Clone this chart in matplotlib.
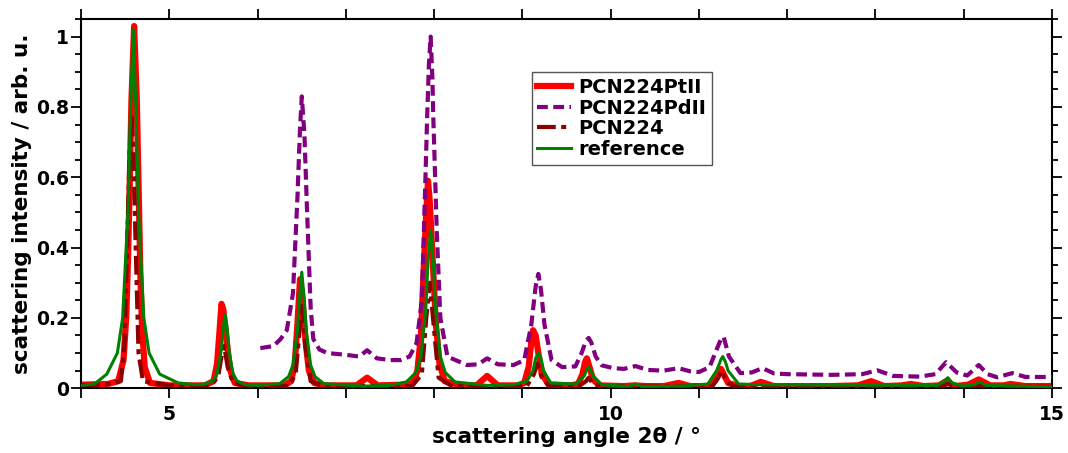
#!/usr/bin/env python3

# Powder diffraction patterns of PCN-224 type MOFs, normalised intensity

import numpy as np
import matplotlib
matplotlib.use("Agg")
import matplotlib.pyplot as plt
from matplotlib.ticker import MultipleLocator, FuncFormatter

# ---- data (2theta in deg, intensity) ----

pt_x = [4.0, 4.3, 4.42, 4.48, 4.51, 4.53, 4.55, 4.57, 4.6, 4.63, 4.65, 4.67,
        4.69, 4.72, 4.78, 5.0,
        5.4, 5.5, 5.54, 5.57, 5.59, 5.61, 5.63, 5.66, 5.69, 5.74, 5.9,
        6.3, 6.38, 6.42, 6.45, 6.48, 6.51, 6.54, 6.58, 6.64, 6.75,
        7.12, 7.24, 7.36,
        7.65, 7.76, 7.81, 7.85, 7.88, 7.91, 7.93, 7.95, 7.98, 8.02, 8.06, 8.12, 8.3,
        8.48, 8.6, 8.72,
        8.95, 9.02, 9.07, 9.1, 9.12, 9.15, 9.18, 9.22, 9.3,
        9.55, 9.63, 9.68, 9.71, 9.73, 9.76, 9.8, 9.87,
        10.15, 10.27, 10.4, 10.6, 10.77, 10.9,
        11.1, 11.18, 11.25, 11.33, 11.45, 11.58, 11.7, 11.85,
        12.5, 12.8, 12.95, 13.1, 13.3, 13.4, 13.55, 13.72, 13.8, 13.9,
        14.05, 14.17, 14.3, 14.45, 14.53, 14.7, 15.0]
pt_y = [0.010, 0.012, 0.020, 0.080, 0.200, 0.360, 0.580, 0.820, 1.030, 0.820,
        0.580, 0.330, 0.170, 0.060, 0.015, 0.008,
        0.008, 0.020, 0.070, 0.170, 0.240, 0.225, 0.180, 0.110, 0.050, 0.015, 0.008,
        0.008, 0.020, 0.070, 0.180, 0.310, 0.250, 0.140, 0.050, 0.015, 0.008,
        0.008, 0.030, 0.008,
        0.010, 0.015, 0.050, 0.150, 0.330, 0.500, 0.590, 0.530, 0.380, 0.180,
        0.070, 0.020, 0.008,
        0.008, 0.035, 0.008,
        0.008, 0.015, 0.060, 0.130, 0.165, 0.150, 0.100, 0.040, 0.010,
        0.008, 0.012, 0.040, 0.075, 0.085, 0.060, 0.025, 0.008,
        0.006, 0.008, 0.006, 0.006, 0.015, 0.006,
        0.006, 0.020, 0.055, 0.015, 0.006, 0.006, 0.018, 0.006,
        0.006, 0.008, 0.020, 0.006, 0.008, 0.012, 0.006, 0.008, 0.020, 0.006,
        0.010, 0.025, 0.008, 0.008, 0.012, 0.006, 0.006]

pd_x = [6.03, 6.18, 6.26, 6.33, 6.4, 6.45, 6.48, 6.5, 6.53, 6.56, 6.6, 6.63, 6.7,
        6.79, 7.0, 7.15, 7.24, 7.35, 7.5, 7.62, 7.72, 7.8, 7.86, 7.9, 7.92, 7.94,
        7.96, 7.98, 7.99, 8.03, 8.07, 8.15, 8.37, 8.5, 8.6, 8.72, 8.9,
        9.02, 9.1, 9.15, 9.18, 9.21, 9.25, 9.33, 9.45, 9.6, 9.67, 9.72, 9.75,
        9.78, 9.83, 9.9,
        10.03, 10.15, 10.28, 10.42, 10.6, 10.77, 10.9, 11.0,
        11.12, 11.2, 11.25, 11.28, 11.34, 11.47, 11.6, 11.72, 11.85, 12.0,
        12.5, 12.85, 13.02, 13.2, 13.5, 13.68, 13.8, 13.92, 14.04,
        14.17, 14.27, 14.38, 14.55, 14.7, 15.0]
pd_y = [0.114, 0.120, 0.140, 0.165, 0.270, 0.540, 0.740, 0.830, 0.720, 0.500,
        0.230, 0.140, 0.110, 0.100,
        0.095, 0.090, 0.108, 0.085, 0.080, 0.080, 0.090, 0.128, 0.250, 0.590,
        0.770, 0.920, 1.000, 0.880, 0.770, 0.440, 0.200, 0.090, 0.066, 0.068,
        0.085, 0.068, 0.066,
        0.080, 0.180, 0.290, 0.325, 0.280, 0.180, 0.080, 0.060, 0.062, 0.100,
        0.135, 0.143, 0.130, 0.090, 0.065,
        0.057, 0.055, 0.063, 0.052, 0.050, 0.057, 0.048, 0.046,
        0.060, 0.110, 0.140, 0.146, 0.090, 0.043, 0.045, 0.057, 0.042, 0.040,
        0.038, 0.040, 0.051, 0.035, 0.033, 0.040, 0.074, 0.045, 0.036,
        0.066, 0.040, 0.031, 0.043, 0.032, 0.032]

ref_x = [4.0, 4.15, 4.29, 4.41, 4.47, 4.53, 4.56, 4.59, 4.62, 4.65, 4.71, 4.77,
         4.89, 5.1,
         5.3, 5.405, 5.495, 5.54, 5.585, 5.61, 5.63, 5.655, 5.675, 5.72, 5.765,
         5.855, 6.0,
         6.25, 6.35, 6.4, 6.45, 6.475, 6.5, 6.525, 6.55, 6.6, 6.65, 6.75, 7.2,
         7.5, 7.685, 7.795, 7.85, 7.905, 7.93, 7.96, 7.99, 8.015, 8.07, 8.125,
         8.235, 8.6,
         8.9, 9.05, 9.12, 9.15, 9.18, 9.21, 9.24, 9.32,
         9.6, 9.7, 9.73, 9.75, 9.77, 9.8, 9.9, 10.2, 10.28, 10.35,
         10.8, 11.1, 11.2, 11.25, 11.27, 11.3, 11.33, 11.45, 11.7,
         13.7, 13.78, 13.82, 13.87, 14.0, 14.12, 14.18, 14.25, 15.0]
ref_y = [0.008, 0.012, 0.040, 0.100, 0.200, 0.500, 0.800, 1.020, 0.800, 0.500,
         0.200, 0.100, 0.040, 0.015,
         0.010, 0.012, 0.021, 0.042, 0.105, 0.170, 0.210, 0.170, 0.105, 0.042,
         0.021, 0.010, 0.008,
         0.013, 0.033, 0.066, 0.165, 0.260, 0.330, 0.260, 0.165, 0.066, 0.033,
         0.013, 0.006,
         0.008, 0.018, 0.045, 0.090, 0.225, 0.360, 0.450, 0.360, 0.225, 0.090,
         0.045, 0.018, 0.008,
         0.010, 0.020, 0.050, 0.085, 0.100, 0.085, 0.050, 0.015,
         0.012, 0.035, 0.053, 0.060, 0.053, 0.035, 0.010, 0.005, 0.012, 0.005,
         0.006, 0.012, 0.050, 0.082, 0.090, 0.075, 0.050, 0.012, 0.010,
         0.008, 0.020, 0.030, 0.015, 0.006, 0.010, 0.018, 0.008, 0.004]

pcn_x = [4.0, 4.3, 4.45, 4.49, 4.52, 4.55, 4.57, 4.59, 4.62, 4.65, 4.7, 5.0,
         5.45, 5.55, 5.59, 5.62, 5.66, 5.72, 5.9,
         6.35, 6.43, 6.47, 6.5, 6.54, 6.6, 6.75,
         7.75, 7.86, 7.91, 7.95, 7.99, 8.05, 8.2,
         9.05, 9.13, 9.17, 9.22, 9.3,
         9.64, 9.72, 9.75, 9.8, 9.9,
         11.15, 11.22, 11.26, 11.31, 11.4,
         13.75, 13.82, 13.9, 14.1, 14.17, 14.25, 15.0]
pcn_y = [0.008, 0.012, 0.020, 0.120, 0.400, 0.680, 0.780, 0.680, 0.380, 0.100,
         0.020, 0.008,
         0.008, 0.030, 0.090, 0.120, 0.060, 0.015, 0.006,
         0.006, 0.040, 0.150, 0.240, 0.120, 0.020, 0.006,
         0.006, 0.040, 0.200, 0.300, 0.190, 0.030, 0.006,
         0.006, 0.040, 0.070, 0.030, 0.006,
         0.006, 0.020, 0.030, 0.012, 0.005,
         0.005, 0.030, 0.050, 0.020, 0.005,
         0.005, 0.012, 0.005, 0.005, 0.010, 0.005, 0.004]

plt.rcParams["font.family"] = "DejaVu Sans"
plt.rcParams["font.weight"] = "bold"

fig = plt.figure(figsize=(10.68, 4.53), dpi=100)
ax = fig.add_axes([0.076, 0.143, 0.909, 0.815])

ax.plot(pt_x, pt_y, color="red", lw=4.5, label="PCN224PtII", zorder=2)
ax.plot(pd_x, pd_y, color="purple", lw=3, ls=(0, (2.6, 1.3)),
        label="PCN224PdII", zorder=3)
ax.plot(pcn_x, pcn_y, color="darkred", lw=3, ls=(0, (4.5, 1.3, 1.2, 1.3)),
        label="PCN224", zorder=4)
ax.plot(ref_x, ref_y, color="green", lw=2.2, label="reference", zorder=5)

ax.set_xlim(4, 15)
ax.set_ylim(0, 1.05)

ax.xaxis.set_major_locator(MultipleLocator(1))
ax.xaxis.set_major_formatter(
    FuncFormatter(lambda v, p: "%d" % v if abs(v % 5) < 1e-6 else ""))
ax.yaxis.set_major_locator(MultipleLocator(0.2))
ax.yaxis.set_minor_locator(MultipleLocator(0.05))
ax.yaxis.set_major_formatter(FuncFormatter(lambda v, p: "%g" % round(v, 2)))

ax.tick_params(axis="both", which="both", direction="out", width=1.3,
               top=True, right=True, labelsize=13.5)
ax.tick_params(axis="x", which="major", length=7, pad=5)
ax.tick_params(axis="y", which="major", length=7, pad=2)
ax.tick_params(axis="y", which="minor", length=4)
for s in ax.spines.values():
  s.set_linewidth(1.5)

ax.set_xlabel("scattering angle 2θ / °", fontsize=15.5, fontweight="bold",
              labelpad=2)
ax.set_ylabel("scattering intensity / arb. u.", fontsize=15.5,
              fontweight="bold", labelpad=3)

leg = ax.legend(loc="upper left", bbox_to_anchor=(0.464, 0.856),
                borderaxespad=0, fancybox=False, framealpha=1,
                edgecolor="#555555", fontsize=14, handlelength=1.7,
                labelspacing=0.08, handletextpad=0.4, borderpad=0.3)
leg.get_frame().set_linewidth(1.0)

fig.savefig("out.png", dpi=100)
